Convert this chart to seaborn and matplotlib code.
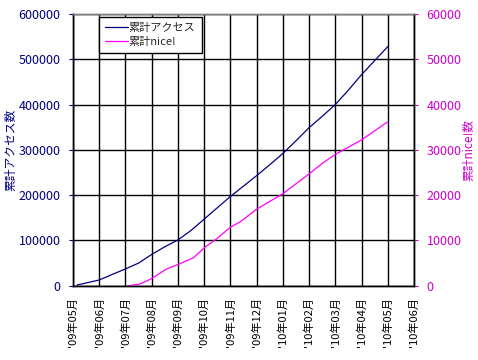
import numpy as np
import pandas as pd
import matplotlib
matplotlib.use("Agg")
import matplotlib.pyplot as plt
import seaborn as sns

# x tick labels (one per month)
months = ["'09年05月", "'09年06月", "'09年07月", "'09年08月", "'09年09月",
          "'09年10月", "'09年11月", "'09年12月", "'10年01月", "'10年02月",
          "'10年03月", "'10年04月", "'10年05月", "'10年06月"]

# cumulative access (left axis), x in months since '09年05月
access_pos = [0.15, 0.5, 1, 1.5, 2, 2.5, 3, 3.5, 4, 4.5, 5, 5.5, 6,
              6.5, 7, 7.5, 8, 8.5, 9, 9.5, 10, 10.5, 11, 11.5, 12]
access_val = [1500, 6000, 12600, 25000, 37000, 50000, 69000, 86000, 101000,
              122000, 147000, 172000, 197000, 220000, 243000, 267000, 292000,
              320000, 349000, 374000, 400000, 432000, 466000, 497000, 528000]

# cumulative nice! (right axis)
nice_pos = [2.11, 2.55, 2.97, 3.57, 3.99, 4.59, 5.03, 5.48, 6.01, 6.37,
            7, 7.5, 8, 8.5, 9, 9.5, 10, 10.5, 11, 11.5, 12]
nice_val = [0, 370, 1480, 3700, 4670, 6150, 8500, 10370, 12960, 14070,
            16900, 18600, 20300, 22500, 24700, 27000, 29000, 30600, 32200,
            34200, 36200]

sns.set_style("white")
plt.rcParams["font.family"] = ["Noto Sans CJK JP", "DejaVu Sans"]

navy = "#000080"
pink = "#FF00FF"
pink_txt = "#CC00CC"

df_a = pd.DataFrame({"month": access_pos, "value": access_val})
df_n = pd.DataFrame({"month": nice_pos, "value": nice_val})

fig = plt.figure(figsize=(4.78, 3.6), dpi=100)
ax = fig.add_axes([73 / 478, 1 - 285.7 / 360, (414 - 73) / 478, (285.7 - 14) / 360])
ax2 = ax.twinx()

sns.lineplot(data=df_a, x="month", y="value", ax=ax, color=navy, lw=0.9,
             label="累計アクセス", legend=False)
sns.lineplot(data=df_n, x="month", y="value", ax=ax2, color=pink, lw=0.9,
             label="累計nice!", legend=False)

ax.set_xlim(0, len(months) - 1)
ax.set_ylim(0, 600000)
ax2.set_ylim(0, 60000)
ax.set_xticks(range(len(months)))
ax.set_xticklabels(months, rotation=90, fontsize=8)
ax.set_yticks(range(0, 600001, 100000))
ax2.set_yticks(range(0, 60001, 10000))
ax.tick_params(axis="y", colors=navy, labelsize=9, length=3, width=0.8, pad=6)
ax.tick_params(axis="x", colors="black", length=0, pad=8)
ax2.tick_params(axis="y", colors=pink_txt, labelsize=9, length=3, width=0.8, pad=6)

ax.grid(True, color="black", lw=1.0)
ax.set_xlabel("")
ax.set_ylabel("累計アクセス数", color=navy, fontsize=8.5, labelpad=1)
ax2.set_ylabel("累計nice!数", color=pink_txt, fontsize=8.5, labelpad=1)

for a in (ax, ax2):
    for s in ("left", "right", "bottom"):
        a.spines[s].set_color("black")
        a.spines[s].set_linewidth(1.0)
    a.spines["top"].set_color("#808080")
    a.spines["top"].set_linewidth(1.0)

h1, l1 = ax.get_legend_handles_labels()
h2, l2 = ax2.get_legend_handles_labels()
leg = ax2.legend(h1 + h2, l1 + l2, loc="upper left",
                 bbox_to_anchor=((99.3 - 73) / 341, (285.7 - 17) / 271.7),
                 borderaxespad=0, fontsize=8, fancybox=False, framealpha=1,
                 handlelength=2.0, handletextpad=0.1, borderpad=0.55,
                 labelspacing=0.35)
leg.get_frame().set_edgecolor("black")
leg.get_frame().set_linewidth(1.0)

fig.savefig("out.png", dpi=100)
